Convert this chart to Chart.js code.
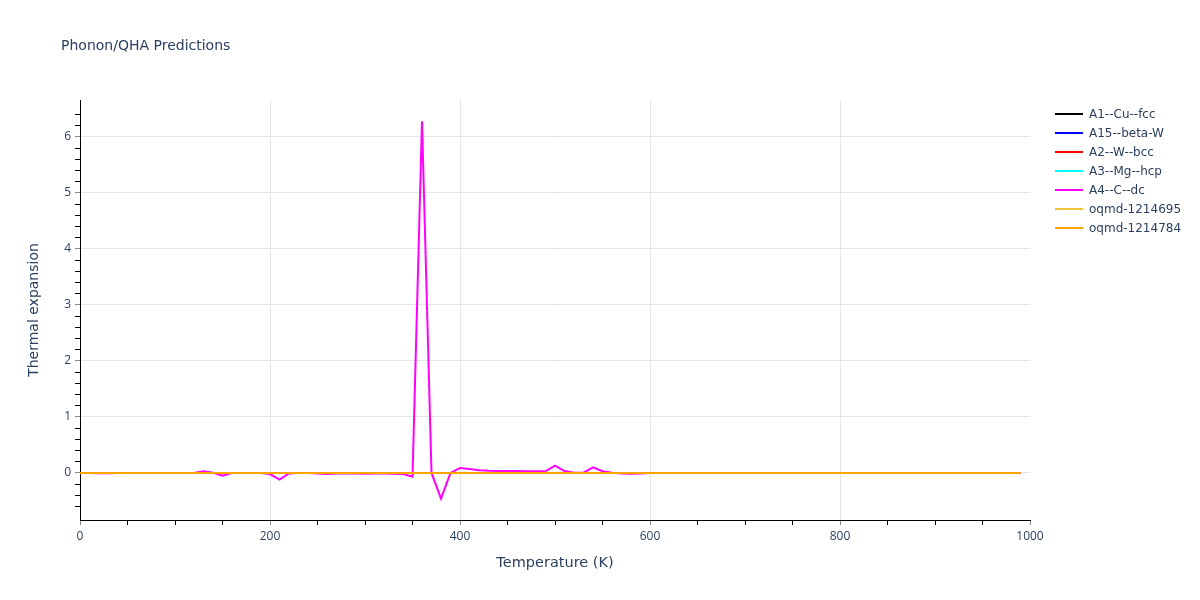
<!DOCTYPE html>
<html>
<head>
<meta charset="utf-8">
<script src="https://cdn.jsdelivr.net/npm/chart.js@4/dist/chart.umd.min.js"></script>
<style>
html,body{margin:0;padding:0;background:#fff;}
#wrap{width:1200px;height:600px;}
</style>
</head>
<body>
<div id="wrap"><canvas id="chart" width="1200" height="600"></canvas></div>
<script>

//=============================
// DATA
//=============================

const seriesNames = ["A1--Cu--fcc","A15--beta-W","A2--W--bcc","A3--Mg--hcp","A4--C--dc","oqmd-1214695","oqmd-1214784"];
const seriesColors = ["#000000","#0000ff","#ff0000","#00ffff","#ff00ff","#ebc43c","#ffa500"];

// flat series (read as zero over the whole range)
const flatTemps = [0, 990];
const flatValues = [0, 0];

// A4--C--dc
const dcTemps = [
0,10,20,30,40,50,60,70,80,90,
100,110,120,130,140,150,160,170,180,190,
200,210,220,230,240,250,260,270,280,290,
300,310,320,330,340,350,360,370,380,390,
400,410,420,430,440,450,460,470,480,490,
500,510,520,530,540,550,560,570,580,590,
600,610,620,630,640,650,660,670,680,690,
700,710,720,730,740,750,760,770,780,790,
800,810,820,830,840,850,860,870,880,890,
900,910,920,930,940,950,960,970,980,990
];
const dcValues = [
0,0,-0.005,-0.005,0,0,0,0,0,0,
0,0,0,0.03,0.005,-0.05,0,0,0,0,
-0.02,-0.12,-0.01,0,0,-0.01,-0.02,-0.01,-0.01,-0.01,
-0.015,-0.01,-0.01,-0.015,-0.02,-0.065,6.28,0,-0.46,0,
0.09,0.07,0.05,0.04,0.035,0.035,0.035,0.03,0.03,0.03,
0.13,0.035,0.005,0.005,0.1,0.03,0.005,-0.01,-0.015,-0.01,
0,0,0,0,0,0,0,0,0,0,
0,0,0,0,0,0,0,0,0,0,
0,0,0,0,0,0,0,0,0,0,
0,0,0,0,0,0,0,0,0,0
];

const xTickStep = 50;
const xLabelStep = 200;
const yTickStep = 0.2;

const FONT = "'Open Sans', 'Liberation Sans', sans-serif";
const WIDE = "'DejaVu Sans', Verdana, sans-serif";
const TEXT = "#2a3f5f";

//=============================
// DATASETS
//=============================

function points(xs, ys){
    return xs.map((x,i)=>({x:x, y:ys[i]}));
}

const datasets = seriesNames.map((name,i)=>{
    const isDc = name === "A4--C--dc";
    return {
        label:name,
        data: isDc ? points(dcTemps,dcValues) : points(flatTemps,flatValues),
        borderColor:seriesColors[i],
        backgroundColor:seriesColors[i],
        borderWidth:2,
        pointRadius:0,
        tension:0,
        fill:false,
        order:seriesNames.length-1-i
    };
});

//---------------------------
// title + legend plugin
//---------------------------

const decor = {
    id:"decor",
    afterDraw(chart){
        const ctx = chart.ctx;
        ctx.save();
        ctx.fillStyle = TEXT;
        ctx.font = "14px " + WIDE;
        ctx.textBaseline = "middle";
        ctx.textAlign = "left";
        ctx.fillText("Phonon/QHA Predictions", 61, 46);

        ctx.font = "12px " + WIDE;
        seriesNames.forEach((name,i)=>{
            const y = 114 + i*19;
            ctx.strokeStyle = seriesColors[i];
            ctx.lineWidth = 2;
            ctx.beginPath();
            ctx.moveTo(1055,y);
            ctx.lineTo(1083,y);
            ctx.stroke();
            ctx.fillStyle = TEXT;
            ctx.fillText(name, 1089, y+1);
        });
        ctx.restore();
    }
};

function isMult(v, step){
    const r = v/step;
    return Math.abs(r - Math.round(r)) < 1e-6;
}

//=============================
// CHART
//=============================

new Chart(document.getElementById("chart"),{

type:"line",

data:{ datasets:datasets },

options:{
    responsive:false,
    animation:false,
    devicePixelRatio:1,
    layout:{ padding:{ left:0, top:100, right:170, bottom:0 } },
    plugins:{
        legend:{ display:false },
        tooltip:{ enabled:false }
    },
    scales:{
        x:{
            type:"linear",
            min:0,
            max:1000,
            afterFit(scale){ scale.height = 80; },
            afterBuildTicks(scale){
                scale.ticks = scale.ticks.filter(t=>isMult(t.value,xTickStep));
            },
            border:{ display:true, color:"#000", width:1 },
            grid:{
                color:(c)=>{
                    const v = c.tick ? c.tick.value : 0;
                    return (isMult(v,xLabelStep) && v>0 && v<1000) ? "#e5e5e5" : "rgba(0,0,0,0)";
                },
                tickColor:(c)=>{
                    const v = c.tick ? c.tick.value : 0;
                    return isMult(v,xLabelStep) ? "#8a8a8a" : "#000";
                },
                tickLength:5,
                lineWidth:1
            },
            ticks:{
                stepSize:xTickStep,
                autoSkip:false,
                maxRotation:0,
                padding:4,
                color:TEXT,
                font:{ family:FONT, size:12 },
                callback:(v)=> isMult(v,xLabelStep) ? String(Math.round(v)) : ""
            },
            title:{
                display:true,
                text:"Temperature (K)",
                color:TEXT,
                font:{ family:WIDE, size:14.5 },
                padding:{ top:0, bottom:28 }
            }
        },
        y:{
            type:"linear",
            min:-0.84,
            max:6.66,
            afterFit(scale){ scale.width = 80; },
            afterBuildTicks(scale){
                scale.ticks = scale.ticks.filter(t=>isMult(t.value,yTickStep));
            },
            border:{ display:true, color:"#000", width:1 },
            grid:{
                color:(c)=>{
                    const v = c.tick ? c.tick.value : 0;
                    return isMult(v,1) ? "#e5e5e5" : "rgba(0,0,0,0)";
                },
                tickColor:(c)=>{
                    const v = c.tick ? c.tick.value : 0;
                    return isMult(v,1) ? "#8a8a8a" : "#000";
                },
                tickLength:5,
                lineWidth:1
            },
            ticks:{
                stepSize:yTickStep,
                autoSkip:false,
                padding:4,
                color:TEXT,
                font:{ family:FONT, size:12 },
                callback:(v)=> isMult(v,1) ? String(Math.round(v)) : ""
            },
            title:{
                display:true,
                text:"Thermal expansion",
                color:TEXT,
                font:{ family:WIDE, size:14 },
                padding:{ top:26, bottom:0 }
            }
        }
    }
},

plugins:[decor]

});

</script>
</body>
</html>
